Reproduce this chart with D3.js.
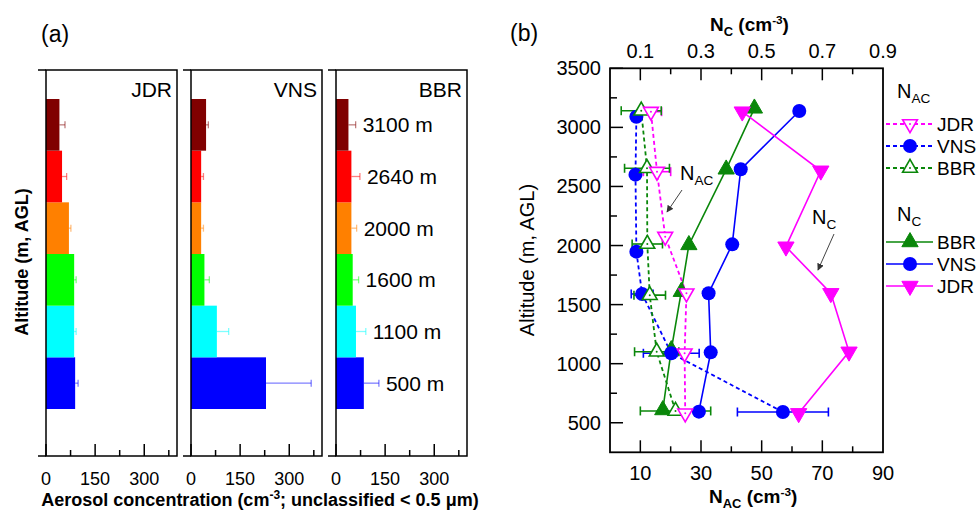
<!DOCTYPE html>
<html><head><meta charset="utf-8">
<script src="https://cdn.jsdelivr.net/npm/d3@7"></script>
<style>body{margin:0;background:#fff}svg{display:block}text{font-family:"Liberation Sans",Arial,sans-serif;fill:#000}</style>
</head><body><svg id="c" width="976" height="517"></svg>
<script>
// ---------- Panel (a) data (bottom to top) ----------
const altLabels = ["500 m","1100 m","1600 m","2000 m","2640 m","3100 m"];
const barColors = ["#0000ff","#00ffff","#00ff00","#ff8000","#ff0000","#800000"];
const siteNames = ["JDR","VNS","BBR"];
const jdrBar = [89, 86, 86, 70, 49, 41];
const jdrBarErr = [9, 6, 6, 6, 14, 17];
const vnsBar = [229, 79, 41, 31, 31, 46];
const vnsBarErr = [138, 36, 15, 7, 7, 7];
const bbrBar = [85, 61, 51, 47, 47, 38];
const bbrBarErr = [46, 30, 18, 16, 26, 22];
const aTicks = [0, 150, 300];
const aMinorTicks = [75, 225, 375];

// ---------- Panel (b) data (bottom to top) ----------
const nacJdrAlt = [580, 1088, 1596, 2075, 2625, 3133];
const nacJdr    = [24.8, 24.6, 25.2, 18.2, 15.5, 13.5];
const nacJdrErr = [0, 0, 0, 0, 4.5, 3.5];
const nacVnsAlt = [591, 1088, 1590, 1948, 2600, 3090];
const nacVns    = [57, 20.2, 10.6, 8.7, 8.4, 8.7];
const nacVnsErr = [15, 9.2, 3.6, 0, 0, 0];
const nacBbrAlt = [600, 1101, 1580, 2013, 2654, 3141];
const nacBbr    = [21.6, 15.4, 13.1, 12.3, 12.2, 10.3];
const nacBbrErr = [11.6, 7.3, 5.2, 5, 7.4, 6.6];
const ncBbrAlt = [608, 1116, 1609, 2005, 2645, 3161];
const ncBbr    = [0.174, 0.202, 0.235, 0.260, 0.383, 0.476];
const ncVnsAlt = [594, 1096, 1596, 2010, 2645, 3139];
const ncVns    = [0.293, 0.332, 0.325, 0.403, 0.431, 0.624];
const ncJdrAlt = [580, 1101, 1596, 1990, 2633, 3133];
const ncJdr    = [0.622, 0.788, 0.728, 0.580, 0.695, 0.436];
const bottomTicks = [10, 30, 50, 70, 90];
const bottomMinor = [20, 40, 60, 80];
const topTicks = [0.1, 0.3, 0.5, 0.7, 0.9];
const topMinor = [0.2, 0.4, 0.6, 0.8];
const yTicks = [500, 1000, 1500, 2000, 2500, 3000, 3500];
const yMinor = [750, 1250, 1750, 2250, 2750, 3250];

const MAG = "#ff00ff", BLU = "#0000ff", GRN = "#0a870a";
const svg = d3.select("#c");

// ================= Panel (a) =================
const aTop = 70, aBot = 456, aW = 131;
const aLefts = [46, 191, 336];
const barVals = [jdrBar, vnsBar, bbrBar];
const barErrs = [jdrBarErr, vnsBarErr, bbrBarErr];
const yBand = d3.scaleBand().domain(altLabels).range([409, 99]).paddingInner(0);

siteNames.forEach((site, si) => {
  const L = aLefts[si];
  const x = d3.scaleLinear().domain([0, 400]).range([L, L + aW]);
  const g = svg.append("g");
  const rows = altLabels.map((a, i) => ({a, v: barVals[si][i], e: barErrs[si][i], c: barColors[i]}));
  g.selectAll("rect.bar").data(rows).join("rect")
    .attr("x", x(0)).attr("y", d => yBand(d.a))
    .attr("width", d => x(d.v) - x(0)).attr("height", yBand.bandwidth())
    .attr("fill", d => d.c);
  rows.forEach(d => {
    const cy = yBand(d.a) + yBand.bandwidth() / 2;
    const eg = g.append("g").attr("stroke", d.c).attr("stroke-opacity", 0.5).attr("stroke-width", 1.3);
    eg.append("line").attr("x1", x(d.v)).attr("x2", x(d.v + d.e)).attr("y1", cy).attr("y2", cy);
    eg.append("line").attr("x1", x(d.v + d.e)).attr("x2", x(d.v + d.e)).attr("y1", cy - 3.5).attr("y2", cy + 3.5);
  });
  g.append("rect").attr("x", L).attr("y", aTop).attr("width", aW).attr("height", aBot - aTop)
    .attr("fill", "none").attr("stroke", "#000").attr("stroke-width", 1.5);
  [aTop, aBot].forEach(yy => g.append("line").attr("x1", L - 8).attr("x2", L).attr("y1", yy).attr("y2", yy)
    .attr("stroke", "#000").attr("stroke-width", 1.5));
  aTicks.forEach(t => g.append("line").attr("x1", x(t)).attr("x2", x(t)).attr("y1", aBot).attr("y2", aBot - 12)
    .attr("stroke", "#000").attr("stroke-width", 1.5));
  aMinorTicks.forEach(t => g.append("line").attr("x1", x(t)).attr("x2", x(t)).attr("y1", aBot).attr("y2", aBot - 6)
    .attr("stroke", "#000").attr("stroke-width", 1.5));
  aTicks.forEach(t => g.append("text").attr("x", x(t)).attr("y", 485).attr("text-anchor", "middle")
    .attr("font-size", 18).text(t));
  g.append("text").attr("x", L + aW - 5).attr("y", 97).attr("text-anchor", "end").attr("font-size", 21).text(site);
  if (si === 2) {
    rows.forEach(d => {
      g.append("text").attr("x", x(d.v + d.e) + 7).attr("y", yBand(d.a) + yBand.bandwidth() / 2 + 7.5)
        .attr("font-size", 21).text(d.a);
    });
  }
});
svg.append("text").attr("x", 41).attr("y", 42).attr("font-size", 23).text("(a)");
svg.append("text").attr("transform", "translate(28,262) rotate(-90)").attr("text-anchor", "middle")
  .attr("font-size", 18).attr("font-weight", "bold").text("Altitude (m, AGL)");
{
  const t = svg.append("text").attr("x", 260).attr("y", 506).attr("text-anchor", "middle")
    .attr("font-size", 18).attr("font-weight", "bold");
  t.append("tspan").text("Aerosol concentration (cm");
  t.append("tspan").attr("font-size", 12).attr("dy", -7).text("-3");
  t.append("tspan").attr("dy", 7).text("; unclassified < 0.5 \u03bcm)");
}

// ================= Panel (b) =================
const bL = 610, bR = 883, bT = 68.3, bB = 452.3;
const xB = d3.scaleLinear().domain([0, 90]).range([bL, bR]);
const xT = d3.scaleLinear().domain([0, 0.9]).range([bL, bR]);
const yB = d3.scaleLinear().domain([250, 3500]).range([bB, bT]);
const gb = svg.append("g");

const tick = (x1, y1, x2, y2) => gb.append("line").attr("x1", x1).attr("y1", y1).attr("x2", x2).attr("y2", y2)
  .attr("stroke", "#000").attr("stroke-width", 1.5);
bottomTicks.forEach(t => { if (t < 90) tick(xB(t), bB, xB(t), bB - 12); });
bottomMinor.forEach(t => tick(xB(t), bB, xB(t), bB - 6));
topTicks.forEach(t => { if (t < 0.9) tick(xT(t), bT, xT(t), bT + 12); });
topMinor.forEach(t => tick(xT(t), bT, xT(t), bT + 6));
yTicks.forEach(t => tick(bL, yB(t), bL + 13, yB(t)));
yMinor.forEach(t => tick(bL, yB(t), bL + 7, yB(t)));

bottomTicks.forEach(t => gb.append("text").attr("x", xB(t)).attr("y", 480).attr("text-anchor", "middle").attr("font-size", 20).text(t));
topTicks.forEach(t => gb.append("text").attr("x", xT(t)).attr("y", 58).attr("text-anchor", "middle").attr("font-size", 20).text(t));
yTicks.forEach(t => gb.append("text").attr("x", 601).attr("y", yB(t) + 7).attr("text-anchor", "end").attr("font-size", 20).text(t));

svg.append("text").attr("x", 510).attr("y", 41).attr("font-size", 23).text("(b)");
svg.append("text").attr("transform", "translate(534,260) rotate(-90)").attr("text-anchor", "middle")
  .attr("font-size", 20).text("Altitude (m, AGL)");
function subTitle(x, y, sub, size, bold, unit) {
  const t = svg.append("text").attr("x", x).attr("y", y).attr("font-size", size);
  if (bold) t.attr("font-weight", "bold");
  t.append("tspan").text("N");
  t.append("tspan").attr("font-size", size * 0.68).attr("dy", size * 0.25).text(sub);
  if (unit) {
    t.append("tspan").attr("dy", -size * 0.25).text(" (cm");
    t.append("tspan").attr("font-size", size * 0.62).attr("dy", -size * 0.38).text("-3");
    t.append("tspan").attr("dy", size * 0.38).text(")");
  }
  return t;
}
subTitle(710, 31, "C", 19, true, true);
subTitle(709, 503, "AC", 19, true, true);

const series = [
  {alt: nacJdrAlt, v: nacJdr, e: nacJdrErr, x: xB, color: MAG, dash: true, sym: "tdown", open: true, name: "JDR"},
  {alt: nacVnsAlt, v: nacVns, e: nacVnsErr, x: xB, color: BLU, dash: true, sym: "circle", open: false, name: "VNS"},
  {alt: nacBbrAlt, v: nacBbr, e: nacBbrErr, x: xB, color: GRN, dash: true, sym: "tup", open: true, name: "BBR"},
  {alt: ncBbrAlt, v: ncBbr, e: null, x: xT, color: GRN, dash: false, sym: "tup", open: false, name: "BBR"},
  {alt: ncVnsAlt, v: ncVns, e: null, x: xT, color: BLU, dash: false, sym: "circle", open: false, name: "VNS"},
  {alt: ncJdrAlt, v: ncJdr, e: null, x: xT, color: MAG, dash: false, sym: "tdown", open: false, name: "JDR"}
];
function marker(g, sym, open, color, cx, cy) {
  if (sym === "circle") {
    g.append("circle").attr("cx", cx).attr("cy", cy).attr("r", 7).attr("fill", color);
  } else {
    g.append("path").attr("d", d3.symbol(d3.symbolTriangle, open ? 95 : 115)())
      .attr("transform", `translate(${cx},${cy})` + (sym === "tdown" ? " rotate(180)" : ""))
      .attr("fill", open ? "#fff" : color).attr("stroke", color).attr("stroke-width", open ? 1.6 : 1);
    if (open) g.append("circle").attr("cx", cx).attr("cy", cy).attr("r", 1).attr("fill", color);
  }
}
const line = s => d3.line().x((d, i) => s.x(s.v[i])).y((d, i) => yB(s.alt[i]));
series.forEach(s => {
  gb.append("path").datum(s.alt).attr("d", line(s)).attr("fill", "none").attr("stroke", s.color)
    .attr("stroke-width", s.dash ? 1.8 : 1.6).attr("stroke-dasharray", s.dash ? "4,3" : null);
});
series.forEach(s => {
  if (!s.e) return;
  s.alt.forEach((a, i) => {
    const e = s.e[i]; if (!e) return;
    const cy = yB(a), x1 = s.x(s.v[i] - e), x2 = s.x(s.v[i] + e);
    const eg = gb.append("g").attr("stroke", s.color).attr("stroke-width", 1.6);
    eg.append("line").attr("x1", x1).attr("x2", x2).attr("y1", cy).attr("y2", cy);
    eg.append("line").attr("x1", x1).attr("x2", x1).attr("y1", cy - 4.5).attr("y2", cy + 4.5);
    eg.append("line").attr("x1", x2).attr("x2", x2).attr("y1", cy - 4.5).attr("y2", cy + 4.5);
  });
});
[3, 4, 5, 1, 2, 0].forEach(k => {
  const s = series[k];
  s.alt.forEach((a, i) => marker(gb, s.sym, s.open, s.color, s.x(s.v[i]), yB(a)));
});
gb.append("rect").attr("x", bL).attr("y", bT).attr("width", bR - bL).attr("height", bB - bT)
  .attr("fill", "none").attr("stroke", "#000").attr("stroke-width", 1.8);

svg.append("defs").append("marker").attr("id", "ah").attr("viewBox", "0 0 10 10").attr("refX", 9).attr("refY", 5)
  .attr("markerWidth", 7).attr("markerHeight", 7).attr("orient", "auto")
  .append("path").attr("d", "M0,0 L10,5 L0,10 z").attr("fill", "#333");
subTitle(680, 180, "AC", 20, false, false);
svg.append("line").attr("x1", 682).attr("y1", 190).attr("x2", 667).attr("y2", 212)
  .attr("stroke", "#444").attr("stroke-width", 1).attr("marker-end", "url(#ah)");
subTitle(812, 224, "C", 20, false, false);
svg.append("line").attr("x1", 834).attr("y1", 234).attr("x2", 818).attr("y2", 270)
  .attr("stroke", "#444").attr("stroke-width", 1).attr("marker-end", "url(#ah)");

subTitle(897, 98, "AC", 20, false, false);
subTitle(897, 221, "C", 20, false, false);
const legRows = [124, 146, 168, 242, 264, 286];
series.forEach((s, k) => {
  const y = legRows[k];
  svg.append("line").attr("x1", 886).attr("x2", 933).attr("y1", y).attr("y2", y).attr("stroke", s.color)
    .attr("stroke-width", s.dash ? 1.8 : 1.6).attr("stroke-dasharray", s.dash ? "4,3" : null);
  marker(svg, s.sym, s.open, s.color, 910, y);
  svg.append("text").attr("x", 937).attr("y", y + 7).attr("font-size", 19).text(s.name);
});
</script></body></html>
